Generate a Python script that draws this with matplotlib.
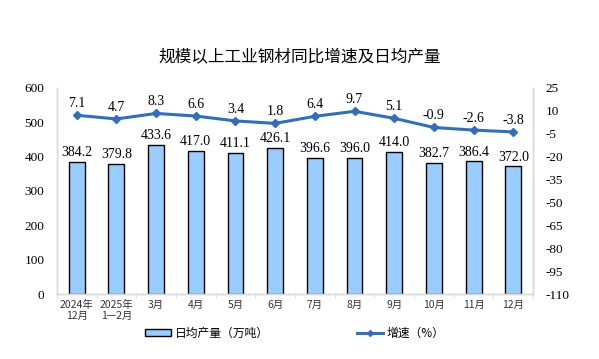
import matplotlib
matplotlib.use("Agg")
import matplotlib.pyplot as plt
from matplotlib.lines import Line2D
from matplotlib.patches import Patch
import numpy as np

plt.rcParams["axes.unicode_minus"] = False

categories = ["2024年\n12月", "2025年\n1—2月", "3月", "4月", "5月", "6月",
              "7月", "8月", "9月", "10月", "11月", "12月"]
output = [384.2, 379.8, 433.6, 417.0, 411.1, 426.1, 396.6, 396.0, 414.0, 382.7, 386.4, 372.0]
growth = [7.1, 4.7, 8.3, 6.6, 3.4, 1.8, 6.4, 9.7, 5.1, -0.9, -2.6, -3.8]

serif = ["Liberation Serif", "Noto Sans CJK SC"]
cjk = ["Noto Sans CJK SC", "DejaVu Sans"]
bar_color = "#99ccff"
line_color = "#2f6fbf"
axis_gray = "#d9d9d9"

fig = plt.figure(figsize=(5.99, 3.59), dpi=100)
ax = fig.add_axes([0.095, 0.181, 0.795, 0.574])
ax2 = ax.twinx()

x = np.arange(len(categories))
ax.bar(x, output, width=0.4, color=bar_color, edgecolor="black", linewidth=1.0, zorder=2)
for xi, v in zip(x, output):
    ax.text(xi, v + 8, f"{v:.1f}", ha="center", va="bottom", fontsize=10, family=serif)

ax2.plot(x, growth, color=line_color, linewidth=2.2, marker="D", markersize=4, zorder=3)
for xi, g in zip(x, growth):
    ax2.text(xi, g + 3.5, f"{g:.1f}", ha="center", va="bottom", fontsize=10, family=serif)

ax.set_xlim(-0.5, len(categories) - 0.5)
ax.set_ylim(0, 600)
ax.set_yticks(np.arange(0, 601, 100))
ax2.set_ylim(-110, 25)
ax2.set_yticks(np.arange(-110, 26, 15))

ax.set_xticks(x)
ax.set_xticklabels(categories, family=cjk, fontsize=7.5, color="#333333")
ax.set_xticks(np.arange(-0.5, len(categories), 1), minor=True)
ax.tick_params(axis="x", which="major", length=0, pad=4)
ax.tick_params(axis="x", which="minor", length=3, color=axis_gray, direction="out")
ax.tick_params(axis="y", length=0, labelsize=9.5, pad=9)
ax2.tick_params(axis="y", length=0, labelsize=9.5, pad=9)
for lab in ax.get_yticklabels() + ax2.get_yticklabels():
    lab.set_family(serif)

for a in (ax, ax2):
    a.spines["top"].set_visible(False)
    for side in ("left", "right", "bottom"):
        a.spines[side].set_color(axis_gray)
        a.spines[side].set_linewidth(1.0)

fig.text(0.5, 0.838, "规模以上工业钢材同比增速及日均产量", ha="center", va="center",
         fontsize=12, family=cjk)

handles = [Patch(facecolor=bar_color, edgecolor="black", linewidth=1.0),
           Line2D([], [], color=line_color, linewidth=2.2, marker="D", markersize=3)]
fig.legend(handles[:1], ["日均产量（万吨）"], loc="center left", bbox_to_anchor=(0.225, 0.072),
           frameon=False, prop={"family": cjk, "size": 8.5}, handlelength=2.2, handleheight=0.6,
           handletextpad=0.3)
fig.legend(handles[1:], ["增速（%）"], loc="center left", bbox_to_anchor=(0.578, 0.072),
           frameon=False, prop={"family": cjk, "size": 8.5}, handlelength=2.2,
           handletextpad=0.3)

fig.savefig("out.png", dpi=100)
